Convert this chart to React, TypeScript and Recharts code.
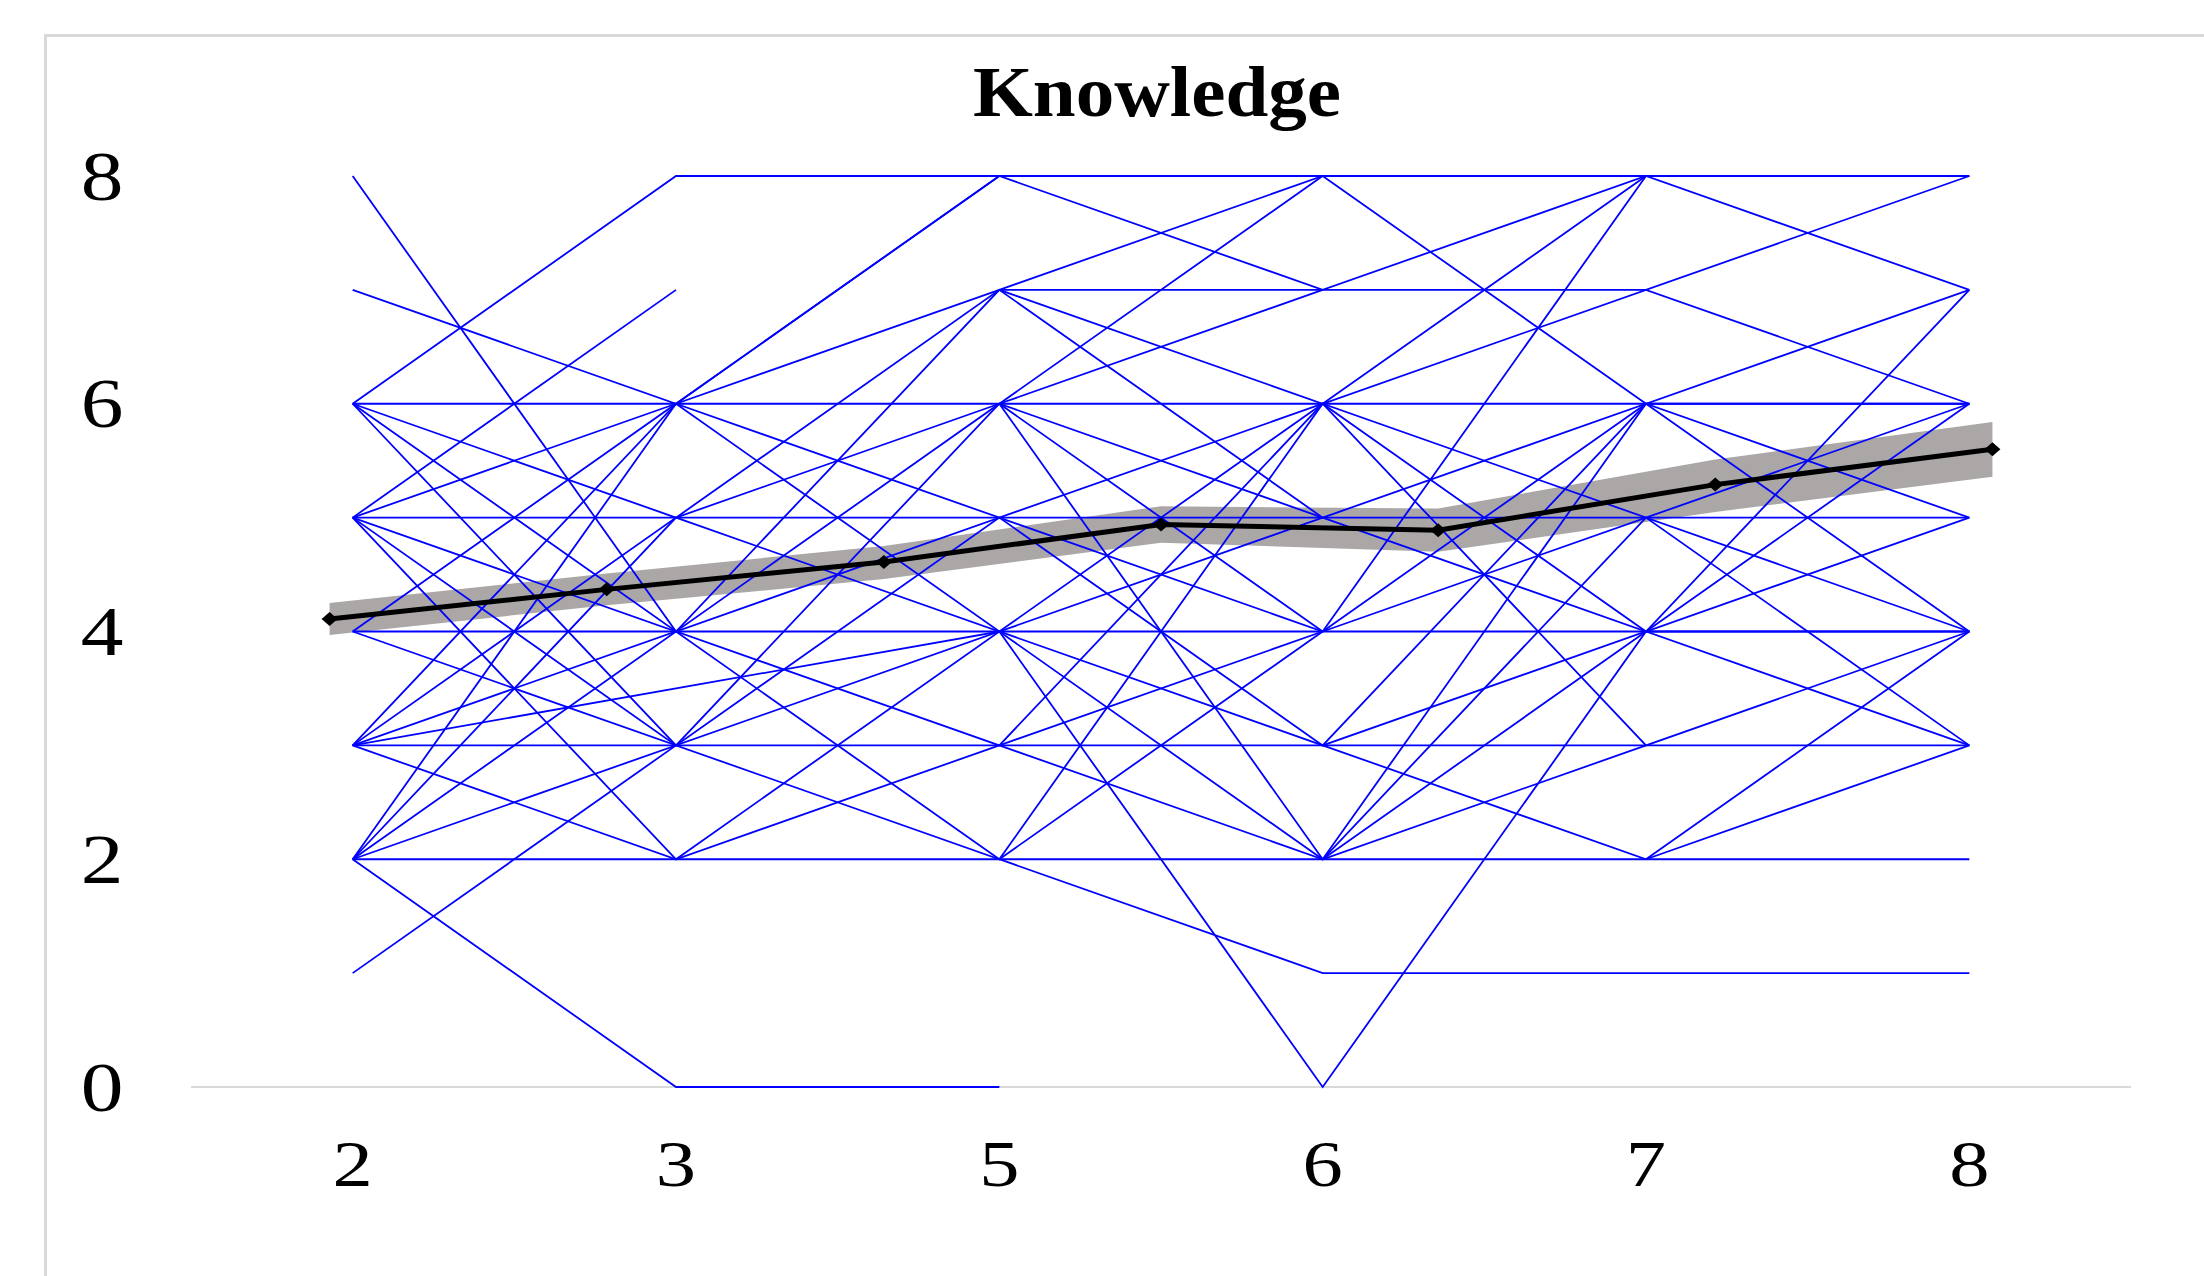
import { ComposedChart, Line, Area, XAxis, YAxis, CartesianGrid } from 'recharts'

// measurement waves on the x axis
const waves = ['2', '3', '5', '6', '7', '8']
const yTicks = [0, 2, 4, 6, 8]

// one row per respondent, one value per wave (null = missing)
const trajectories: (number | null)[][] = [
  [6, 8, 8, 8, 8, 8],
  [7, 6, 8, 7, 8, 7],
  [6, 6, 8, null, null, null],
  [5, 6, 7, 8, 6, 7],
  [4, 6, 6, 8, null, null],
  [3, 6, 5, 6, 6, 6],
  [2, 6, 4, 6, 5, 6],
  [6, 5, 7, 7, 7, 8],
  [5, 5, 6, 7, null, null],
  [3, 5, 5, 5, 5, 5],
  [2, 5, 4, 5, null, null],
  [8, 4, 7, 6, 8, null],
  [6, 4, 6, 6, 7, 6],
  [5, 4, 5, 4, 6, 5],
  [4, 4, 4, 4, 4, 5],
  [3, 4, 3, 6, 4, 7],
  [2, 4, 2, 6, 3, 4],
  [6, 3, 6, 4, 8, null],
  [5, 3, 5, 3, 4, 4],
  [4, 3, 4, 3, 6, 6],
  [3, 3, 3, 3, 3, 3],
  [2, 3, 2, 4, null, null],
  [1, 3, null, null, null, null],
  [5, 2, 4, 2, 5, 3],
  [3, 2, 3, 4, 5, 4],
  [2, 2, 2, 1, 1, 1],
  [2, 0, 0, null, null, null],
  [5, 7, null, null, null, null],
  [3, null, 4, 0, 4, 4],
  [null, null, 7, 5, 6, 4],
  [null, null, 6, 5, 4, 6],
  [null, null, 6, 2, 6, null],
  [null, null, 3, 2, 4, 3],
  [null, null, 2, 2, 3, null],
  [null, null, null, 3, 2, 4],
  [null, null, null, 2, 2, 2],
  [null, null, null, null, 2, 3],
]

// mean trend with its interval (7 points on its own axis)
const meanValues = [4.11, 4.37, 4.61, 4.94, 4.89, 5.29, 5.6]
const meanLow = [3.97, 4.23, 4.46, 4.78, 4.7, 5.05, 5.36]
const meanHigh = [4.25, 4.51, 4.75, 5.1, 5.08, 5.51, 5.84]

const rows = waves.map((w, i) => {
  const row: Record<string, any> = { x: i, wave: w }
  trajectories.forEach((t, j) => {
    row[`s${j}`] = t[i]
  })
  return row
})

const meanRows = meanValues.map((m, k) => ({
  x: k,
  mean: m,
  band: [meanLow[k], meanHigh[k]],
}))

const Y_LABEL_X = 102
const X_LABEL_Y = 1164

function YTick({ y, payload }: any) {
  return (
    <text
      x={Y_LABEL_X}
      y={y}
      textAnchor="middle"
      dominantBaseline="central"
      fontFamily="'Liberation Serif', serif"
      fontSize={70}
      fill="#000"
      transform={`translate(${Y_LABEL_X} ${y}) scale(1.22 1) translate(${-Y_LABEL_X} ${-y})`}
    >
      {payload.value}
    </text>
  )
}

function XTick({ x, payload }: any) {
  return (
    <text
      x={x}
      y={X_LABEL_Y}
      textAnchor="middle"
      dominantBaseline="central"
      fontFamily="'Liberation Serif', serif"
      fontSize={66}
      fill="#000"
      transform={`translate(${x} ${X_LABEL_Y}) scale(1.22 1) translate(${-x} ${-X_LABEL_Y})`}
    >
      {waves[payload.value]}
    </text>
  )
}

function Diamond({ cx, cy }: any) {
  if (cx == null || cy == null) return null
  return <path d={`M${cx - 8},${cy} L${cx},${cy - 7} L${cx + 8},${cy} L${cx},${cy + 7} Z`} fill="#000" />
}

export default function App() {
  return (
    <div style={{ position: 'absolute', left: 0, top: 0, width: 2204, height: 1276, background: '#fff', overflow: 'hidden' }}>
      <div
        style={{
          position: 'absolute',
          left: 44,
          top: 34,
          width: 2300,
          height: 1400,
          borderTop: '3px solid #d9d9d9',
          borderLeft: '3px solid #d9d9d9',
        }}
      />
      <div
        style={{
          position: 'absolute',
          left: 657,
          top: 56,
          width: 1000,
          textAlign: 'center',
          fontFamily: "'Liberation Serif', serif",
          fontWeight: 'bold',
          fontSize: 72,
          lineHeight: '72px',
          transform: 'scaleX(1.07)',
          color: '#000',
        }}
      >
        Knowledge
      </div>
      <div style={{ position: 'absolute', left: 0, top: 0 }}>
        <ComposedChart width={2204} height={1276} data={rows} margin={{ top: 176, right: 73, bottom: 89, left: 91 }}>
          {/* baseline drawn as a grid line so the series sit on top of it */}
          <CartesianGrid
            xAxisId="main"
            vertical={false}
            horizontalValues={[0]}
            stroke="#d9d9d9"
            strokeWidth={2}
          />
          <XAxis
            xAxisId="main"
            type="number"
            dataKey="x"
            domain={[-0.5, 5.5]}
            ticks={[0, 1, 2, 3, 4, 5]}
            interval={0}
            height={100}
            axisLine={false}
            tickLine={false}
            tick={<XTick />}
          />
          <XAxis xAxisId="mean" type="number" dataKey="x" domain={[-0.5, 6.5]} hide />
          <YAxis
            domain={[0, 8]}
            ticks={yTicks}
            interval={0}
            width={100}
            axisLine={false}
            tickLine={false}
            tick={<YTick />}
          />
          {trajectories.map((_, j) => (
            <Line
              key={j}
              xAxisId="main"
              type="linear"
              dataKey={`s${j}`}
              stroke="#0000ff"
              strokeWidth={1.8}
              dot={false}
              activeDot={false}
              connectNulls
              isAnimationActive={false}
            />
          ))}
          <Area
            xAxisId="mean"
            data={meanRows}
            type="linear"
            dataKey="band"
            stroke="none"
            fill="#aba7a7"
            fillOpacity={1}
            isAnimationActive={false}
          />
          <Line
            xAxisId="mean"
            data={meanRows}
            type="linear"
            dataKey="mean"
            stroke="#000"
            strokeWidth={5}
            dot={<Diamond />}
            activeDot={false}
            isAnimationActive={false}
          />
        </ComposedChart>
      </div>
    </div>
  )
}
